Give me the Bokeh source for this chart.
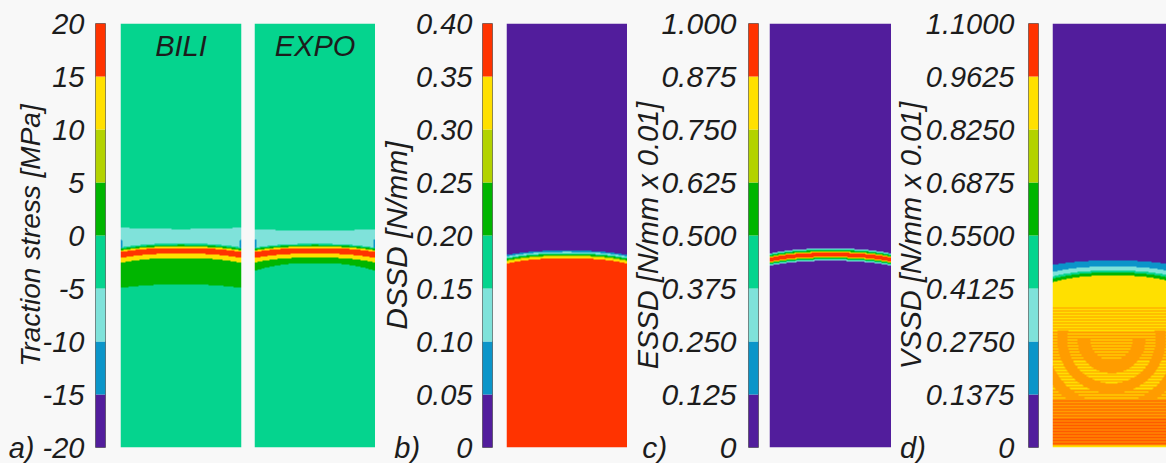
import numpy as np
from bokeh.plotting import figure
from bokeh.layouts import row
from bokeh.models import Range1d, FixedTicker, LinearColorMapper, Label
from bokeh.embed import file_html
from bokeh.resources import INLINE

BG = "#f8f8f8"
TXT = "#1c1c1c"
FONT = "Liberation Sans"

# ---------------- colour levels (bottom -> top of every colour bar) ----------------
LEVEL_COLORS = ["#521d9c", "#0b95c9", "#7fe2da", "#05d48e", "#00b500", "#b3d300", "#ffe000", "#ff3300"]
EXTRA_COLORS = ["#ff9c00", "#ff5a00"]          # orange / red-orange seen in the VSSD field
PALETTE = LEVEL_COLORS + EXTRA_COLORS
ORA, REDOR = 8, 9

# ---------------- colour-bar ticks / labels ----------------
traction_ticks = [-20, -15, -10, -5, 0, 5, 10, 15, 20]
traction_labels = ["-20", "-15", "-10", "-5", "0", "5", "10", "15", "20"]
dssd_ticks = [0, 0.05, 0.10, 0.15, 0.20, 0.25, 0.30, 0.35, 0.40]
dssd_labels = ["0", "0.05", "0.10", "0.15", "0.20", "0.25", "0.30", "0.35", "0.40"]
essd_ticks = [0, 0.125, 0.25, 0.375, 0.5, 0.625, 0.75, 0.875, 1.0]
essd_labels = ["0", "0.125", "0.250", "0.375", "0.500", "0.625", "0.750", "0.875", "1.000"]
vssd_ticks = [0, 0.1375, 0.275, 0.4125, 0.55, 0.6875, 0.825, 0.9625, 1.1]
vssd_labels = ["0", "0.1375", "0.2750", "0.4125", "0.5500", "0.6875", "0.8250", "0.9625", "1.1000"]
panel_letters = ["a)", "b)", "c)", "d)"]

# ---------------- specimen fields (height 0..100, width 0..28.5) ----------------
SPEC_W, SPEC_H = 28.5, 100.0
# bands from top to bottom: colour index, boundary height at mid-width, extra drop at the edges
bili_colors = [3, 2, 3, 4, 6, 7, 6, 4, 3]
bili_bounds = [51.53, 48.11, 47.76, 47.41, 47.05, 45.75, 44.69, 38.44]
bili_sag = [-0.35, 0.94, 0.94, 0.94, 0.94, 1.06, 1.18, 0.83]
bili_spot_y = 48.0

expo_colors = [3, 2, 3, 4, 6, 7, 6, 4, 3]
expo_bounds = [51.18, 48.04, 47.76, 47.41, 47.05, 45.75, 44.81, 43.51]
expo_sag = [-0.35, 0.94, 0.94, 0.94, 0.94, 1.06, 1.18, 1.89]
expo_spot_y = 48.1

dssd_colors = [0, 1, 2, 3, 4, 5, 6, 7]
dssd_bounds = [46.46, 46.11, 45.80, 45.57, 45.28, 45.05, 44.62]
dssd_sag = [1.06, 1.08, 1.11, 1.13, 1.16, 1.18, 1.23]

essd_colors = [0, 2, 3, 4, 6, 7, 6, 4, 3, 2, 0]
essd_bounds = [46.93, 46.70, 46.46, 46.18, 45.94, 44.98, 44.74, 44.50, 44.27, 44.03]
essd_sag = [1.18, 1.18, 1.18, 1.18, 1.18, 1.18, 1.18, 1.18, 1.18, 1.18]

vssd_colors = [0, 1, 2, 3, 4, 6]
vssd_bounds = [44.10, 42.69, 41.75, 41.27, 40.57]
vssd_sag = [1.06, 1.30, 1.40, 1.50, 1.60]
vssd_ring_center = [13.9, 25.5]
vssd_disk_r = 4.95
vssd_crescent_r = 8.0
vssd_ring_w = 2.4
vssd_yellow_floor = 33.5
vssd_red_floor = 11.1
vssd_stripe_h = 0.36

ARC_POWER = 2.5


def grid(nx, ny):
    xs = (np.arange(nx) + 0.5) / nx * SPEC_W
    ys = (np.arange(ny) + 0.5) / ny * SPEC_H
    return np.meshgrid(xs, ys)


def band_field(colors, bounds, sags, nx, ny):
    X, Y = grid(nx, ny)
    u = np.abs(2 * X / SPEC_W - 1)
    out = np.full(X.shape, colors[-1], dtype=float)
    for k in range(len(bounds) - 1, -1, -1):
        b = bounds[k] - sags[k] * u ** ARC_POWER
        out = np.where(Y >= b, colors[k], out)
    return out, X, Y


def add_spots(out, X, Y, spot_y):
    d = np.hypot((np.minimum(X, SPEC_W - X)) / 0.55, (Y - spot_y) / 1.1)
    out[d < 1] = 1
    return out


def vssd_field(nx, ny):
    out, X, Y = band_field(vssd_colors, vssd_bounds, vssd_sag, nx, ny)
    xc, yc = vssd_ring_center
    R = np.hypot(X - xc, Y - yc)
    stripe = (np.floor(Y / vssd_stripe_h) % 2) == 0
    ring_even = (np.floor((R - vssd_crescent_r) / vssd_ring_w) % 2) == 0
    tex = np.where(stripe, 6, ORA).astype(float)
    cres = (R >= vssd_disk_r) & (R < vssd_crescent_r) & (Y < yc)
    tex[cres] = ORA
    outer = R >= vssd_crescent_r
    tex = np.where(outer & ring_even, np.where(stripe, 6, ORA), tex)
    tex = np.where(outer & ~ring_even & (Y < yc + 2), ORA, tex)
    tex = np.where(Y < vssd_red_floor, np.where(stripe, REDOR, ORA), tex)
    tex = np.where(Y < 0.8, np.where(stripe, 6, ORA), tex)
    return np.where(Y < vssd_yellow_floor, tex, out)


mapper = LinearColorMapper(palette=PALETTE, low=-0.5, high=len(PALETTE) - 0.5)

TOP, BOTTOM, FRAME_H = 23, 16, 424
H = TOP + FRAME_H + BOTTOM


def field_fig(img, frame_w, right=0, x_end=SPEC_W, title=None):
    p = figure(width=frame_w + right, height=H, x_range=Range1d(0, x_end), y_range=Range1d(0, SPEC_H),
               x_axis_type=None, y_axis_type=None, output_backend="svg", toolbar_location=None,
               min_border_left=0, min_border_right=right, min_border_top=TOP, min_border_bottom=BOTTOM,
               background_fill_color=BG, border_fill_color=BG, outline_line_color=None)
    p.grid.visible = False
    p.image(image=[img], x=0, y=0, dw=SPEC_W, dh=SPEC_H, color_mapper=mapper)
    if title:
        p.add_layout(Label(x=SPEC_W / 2, y=94.8, text=title, text_align="center", text_baseline="middle",
                           text_font=FONT, text_font_style="italic", text_font_size="29px", text_color=TXT))
    return p


def cbar_fig(ticks, labels, title, letter, gap, left, right, tick_size, title_size, tick_standoff, title_standoff):
    p = figure(width=left + 10 + right, height=H, x_range=Range1d(0, 1), y_range=Range1d(ticks[0], ticks[-1]),
               x_axis_type=None, output_backend="svg", toolbar_location=None,
               min_border_left=left, min_border_right=right, min_border_top=TOP, min_border_bottom=BOTTOM,
               background_fill_color=BG, border_fill_color=BG, outline_line_color="#6a6a6a", outline_line_width=1)
    p.grid.visible = False
    p.quad(left=0, right=1, bottom=ticks[:-1], top=ticks[1:], fill_color=LEVEL_COLORS, line_color=None)
    shown = list(labels)
    shown[0] = letter + gap + labels[0]          # panel letter sits on the bottom row, left of the 0 label
    ax = p.yaxis[0]
    ax.ticker = FixedTicker(ticks=ticks)
    ax.major_label_overrides = dict(zip(ticks, shown))
    ax.axis_label = title
    ax.axis_label_text_font = FONT
    ax.axis_label_text_font_style = "italic"
    ax.axis_label_text_font_size = title_size
    ax.axis_label_text_color = TXT
    ax.axis_label_standoff = title_standoff
    ax.major_label_text_font = FONT
    ax.major_label_text_font_style = "italic"
    ax.major_label_text_font_size = tick_size
    ax.major_label_text_color = TXT
    ax.major_label_standoff = tick_standoff
    ax.major_tick_line_color = None
    ax.minor_tick_line_color = None
    ax.axis_line_color = None
    return p


nx_std = 121
img_bili = add_spots(*band_field(bili_colors, bili_bounds, bili_sag, nx_std, FRAME_H), bili_spot_y)
img_expo = add_spots(*band_field(expo_colors, expo_bounds, expo_sag, nx_std, FRAME_H), expo_spot_y)
img_dssd = band_field(dssd_colors, dssd_bounds, dssd_sag, nx_std, FRAME_H)[0]
img_essd = band_field(essd_colors, essd_bounds, essd_sag, 122, FRAME_H)[0]
img_vssd = vssd_field(nx_std, FRAME_H)

figs = [
    cbar_fig(traction_ticks, traction_labels, "Traction stress [MPa]", panel_letters[0], " ",
             95, 15, "29px", "28px", 5, -40),
    field_fig(img_bili, 121, right=13, title="BILI"),
    field_fig(img_expo, 121, title="EXPO"),
    cbar_fig(dssd_ticks, dssd_labels, "DSSD [N/mm]", panel_letters[1], "\u2003\u2005",
             107, 14, "29px", "30px", 4, -22),
    field_fig(img_dssd, 121),
    cbar_fig(essd_ticks, essd_labels, "ESSD [N/mm x 0.01]", panel_letters[2], "\u2003\u2002\u2005",
             121, 11, "30px", "29px", 6, -25),
    field_fig(img_essd, 122),
    cbar_fig(vssd_ticks, vssd_labels, "VSSD [N/mm x 0.01]", panel_letters[3], "\u2003\u2003\u2002",
             137, 14, "29px", "29px", 8, -30),
    field_fig(img_vssd, 114, x_end=SPEC_W * 114 / 121),
]

layout = row(*figs, spacing=0)
layout.styles = {"background-color": BG}
open("out.html", "w").write(file_html(layout, INLINE))
